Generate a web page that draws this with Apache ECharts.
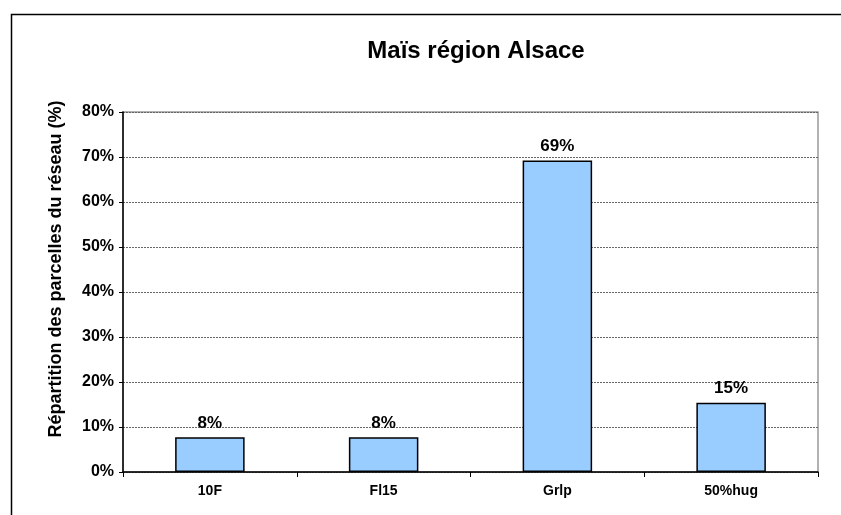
<!DOCTYPE html>
<html>
<head>
<meta charset="utf-8">
<script src="https://cdn.jsdelivr.net/npm/echarts@6/dist/echarts.min.js"></script>
<style>
html,body{margin:0;padding:0;background:#fff;}
#chart{width:841px;height:515px;}
</style>
</head>
<body>
<div id="chart"></div>
<script>
const categories = ['10F', 'Fl15', 'Grlp', '50%hug'];
const values = [7.7, 7.7, 69.2, 15.4];
const valueLabels = ['8%', '8%', '69%', '15%'];
const yTicks = [0, 10, 20, 30, 40, 50, 60, 70, 80];

const chart = echarts.init(document.getElementById('chart'));
const font = 'Liberation Sans, Arial, sans-serif';
chart.setOption({
  animation: false,
  backgroundColor: '#fff',
  title: {
    text: 'Maïs région Alsace',
    left: 471, top: 34, textAlign: 'center',
    textStyle: {fontFamily: font, fontSize: 24, fontWeight: 'bold', color: '#000'}
  },
  graphic: [{
    type: 'rect', left: 9, top: 12, shape: {width: 900, height: 600},
    style: {fill: 'none', stroke: '#000', lineWidth: 1.5}, silent: true
  }],
  grid: {left: 123, right: 23, top: 112, bottom: 43, show: true, borderColor: '#999', borderWidth: 1.5, backgroundColor: 'transparent'},
  xAxis: {
    type: 'category', data: categories,
    axisLine: {lineStyle: {color: '#000', width: 1.5}},
    axisTick: {show: true, alignWithLabel: false, length: 5, lineStyle: {color: '#000'}},
    axisLabel: {fontFamily: font, fontSize: 14, fontWeight: 'bold', color: '#000', margin: 12}
  },
  yAxis: {
    type: 'value', min: yTicks[0], max: yTicks[yTicks.length - 1], interval: 10,
    name: 'Répartition des parcelles du réseau (%)',
    nameLocation: 'middle', nameGap: 58, nameRotate: 90,
    nameTextStyle: {fontFamily: font, fontSize: 18, fontWeight: 'bold', color: '#000', padding: [0, 0, 0, 46]},
    axisLine: {show: true, lineStyle: {color: '#000', width: 1.5}},
    axisTick: {show: true, length: 4, lineStyle: {color: '#000'}},
    axisLabel: {fontFamily: font, fontSize: 16, fontWeight: 'bold', color: '#000', margin: 9, formatter: v => v + '%'},
    splitLine: {show: true, lineStyle: {color: '#666', type: [2, 1], width: 1}}
  },
  series: [{
    type: 'bar', data: values, barWidth: '40%',
    itemStyle: {color: '#99ccff', borderColor: '#000', borderWidth: 1.5},
    label: {
      show: true, position: 'top', distance: 6,
      fontFamily: font, fontSize: 17, fontWeight: 'bold', color: '#000',
      formatter: p => valueLabels[p.dataIndex]
    }
  }]
});
</script>
</body>
</html>
